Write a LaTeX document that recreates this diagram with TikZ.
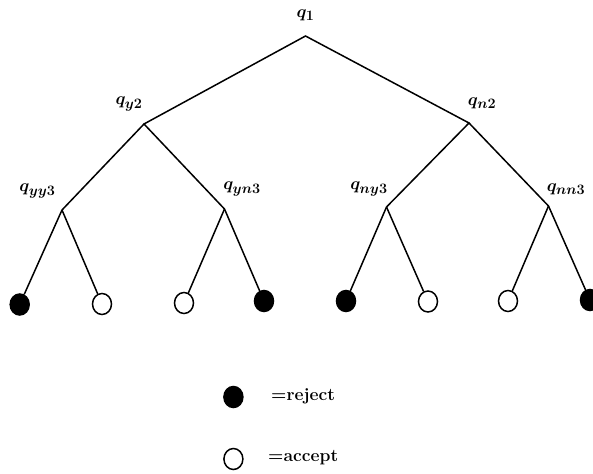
\documentclass[tikz,border=0pt]{standalone}
\usetikzlibrary{shapes.geometric}
\DeclareMathSizes{16}{16}{14}{10}
\begin{document}
\begin{tikzpicture}[x=1pt,y=-1pt,
  edge/.style={line width=1.5pt},
  lbl/.style={inner sep=0pt,font=\fontsize{16}{19}\selectfont\boldmath},
  leaf/.style={ellipse,draw,line width=1.5pt,inner sep=0pt,minimum width=19pt,minimum height=21pt},
  rej/.style={leaf,fill=black},
  acc/.style={leaf,fill=white},
  legtxt/.style={inner sep=0pt,anchor=west,font=\fontsize{17.5}{20}\selectfont\bfseries}]
\useasboundingbox (0,0) rectangle (593,473);
% vertices
\coordinate (r) at (305.5,36);
\coordinate (y2) at (144,124);
\coordinate (n2) at (469,123);
\coordinate (yy3) at (62,210);
\coordinate (yn3) at (224.5,209);
\coordinate (ny3) at (386.5,207);
\coordinate (nn3) at (548.5,206);
% labels
\node[lbl] (lr) at (305.5,15) {$q_1$};
\node[lbl] (ly2) at (129,104) {$q_{y2}$};
\node[lbl] (ln2) at (482,103) {$q_{n2}$};
\node[lbl] (lyy3) at (37.5,191) {$q_{yy3}$};
\node[lbl] (lyn3) at (242,189) {$q_{yn3}$};
\node[lbl] (lny3) at (369,189) {$q_{ny3}$};
\node[lbl] (lnn3) at (566,189) {$q_{nn3}$};
% leaves
\node[rej] (l1) at (19.7,304.5) {};
\node[acc] (l2) at (102,304) {};
\node[acc] (l3) at (184,303) {};
\node[rej] (l4) at (264,301) {};
\node[rej] (l5) at (346,301) {};
\node[acc] (l6) at (428,301.5) {};
\node[acc] (l7) at (508,301) {};
\node[rej] (l8) at (590,300) {};
% edges
\draw[edge] (y2) -- (r) -- (n2);
\draw[edge] (yy3) -- (y2) -- (yn3);
\draw[edge] (ny3) -- (n2) -- (nn3);
\draw[edge] (yy3) -- (l1); \draw[edge] (yy3) -- (l2);
\draw[edge] (yn3) -- (l3); \draw[edge] (yn3) -- (l4);
\draw[edge] (ny3) -- (l5); \draw[edge] (ny3) -- (l6);
\draw[edge] (nn3) -- (l7); \draw[edge] (nn3) -- (l8);
% legend
\node[rej] (kr) at (233.4,397) {};
\node[acc] (ka) at (233.4,459) {};
\node[legtxt] (tr) at (271,396.5) {=reject};
\node[legtxt] (ta) at (268,458) {=accept};
\end{tikzpicture}
\end{document}
